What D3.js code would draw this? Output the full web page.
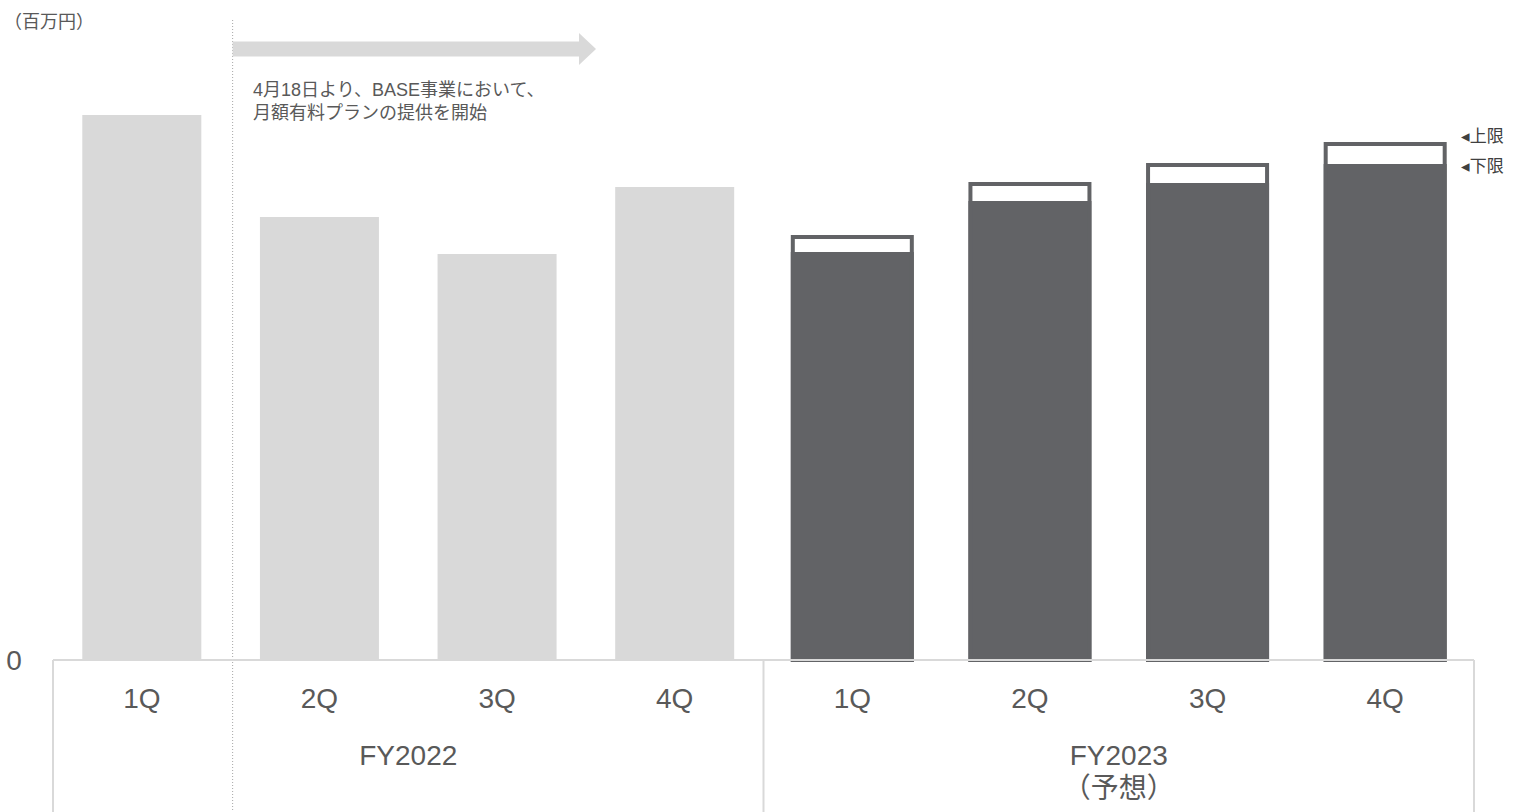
<!DOCTYPE html>
<html lang="ja">
<head>
<meta charset="UTF-8">
<title>BASE</title>
<script src="https://d3js.org/d3.v7.min.js"></script>
<style>
  body { margin: 0; background: #fff; }
  svg text { font-family: "Liberation Sans", Arial, "Noto Sans CJK JP", sans-serif; fill: #595959; }
</style>
</head>
<body>
<svg id="chart" width="1516" height="812"></svg>
<script>
// data (百万円)
var quarters = ['1Q', '2Q', '3Q', '4Q', '1Q', '2Q', '3Q', '4Q'];
var years = ['FY2022', 'FY2022', 'FY2022', 'FY2022', 'FY2023', 'FY2023', 'FY2023', 'FY2023'];
var actual = [545, 443, 406, 473, null, null, null, null];
var forecastLow = [null, null, null, null, 406, 457, 475, 494];
var forecastHigh = [null, null, null, null, 423, 476, 495, 516];
var yearLabels = [['FY2022'], ['FY2023', '（予想）']];
var unitLabel = '（百万円）';
var noteLines = ['4月18日より、BASE事業において、', '月額有料プランの提供を開始'];

var svg = d3.select('#chart');
var left = 53, right = 1474, base = 660, bottom = 812;

var keys = d3.range(quarters.length);
var x = d3.scaleBand().domain(keys).range([left, right]).paddingInner(0.33).paddingOuter(0.165);
var y = d3.scaleLinear().domain([0, 600]).range([base, 60]);
var step = x.step();

var light = '#d9d9d9', dark = '#626366';

// dotted marker line (start of monthly plan, between 1Q and 2Q)
var markX = x(1) - step * x.paddingInner() / 2 + 2;
svg.append('line')
    .attr('x1', markX).attr('x2', markX)
    .attr('y1', 20).attr('y2', bottom)
    .attr('stroke', '#a6a6a6').attr('stroke-width', 1)
    .attr('stroke-dasharray', '1,2');

// arrow
var ax0 = markX, ax1 = 579, ax2 = 596;
svg.append('path')
    .attr('d', 'M' + ax0 + ',41.5 L' + ax1 + ',41.5 L' + ax1 + ',33 L' + ax2 + ',49 L' + ax1 + ',65 L' + ax1 + ',56.5 L' + ax0 + ',56.5 Z')
    .attr('fill', light);

svg.append('text')
    .attr('x', 253).attr('y', 96)
    .style('font-size', '18px')
    .selectAll('tspan').data(noteLines).join('tspan')
    .attr('x', 253).attr('dy', function(d, i) { return i ? 23 : 0; })
    .text(function(d) { return d; });

svg.append('text').attr('x', 4).attr('y', 28)
    .style('font-size', '18px').text(unitLabel);

// actual bars
svg.selectAll('rect.actual').data(keys.filter(function(i) { return actual[i] != null; }))
    .join('rect').attr('class', 'actual')
    .attr('x', function(i) { return x(i); })
    .attr('width', x.bandwidth())
    .attr('y', function(i) { return y(actual[i]); })
    .attr('height', function(i) { return base - y(actual[i]); })
    .attr('fill', light);

// forecast: upper range (white box) then lower bound (dark)
var fc = keys.filter(function(i) { return forecastLow[i] != null; });
svg.selectAll('rect.hi').data(fc).join('rect').attr('class', 'hi')
    .attr('x', function(i) { return x(i); })
    .attr('width', x.bandwidth())
    .attr('y', function(i) { return y(forecastHigh[i]); })
    .attr('height', function(i) { return base - y(forecastHigh[i]); })
    .attr('fill', '#fff').attr('stroke', dark).attr('stroke-width', 4);
svg.selectAll('rect.lo').data(fc).join('rect').attr('class', 'lo')
    .attr('x', function(i) { return x(i); })
    .attr('width', x.bandwidth())
    .attr('y', function(i) { return y(forecastLow[i]); })
    .attr('height', function(i) { return base - y(forecastLow[i]); })
    .attr('fill', dark).attr('stroke', dark).attr('stroke-width', 4);

// upper / lower labels next to the last bar
var last = fc[fc.length - 1];
var lx = x(last) + x.bandwidth() + 16;
[['◂上限', forecastHigh[last], -8], ['◂下限', forecastLow[last], 0]].forEach(function(d) {
    svg.append('text')
        .attr('x', lx).attr('y', y(d[1]) + d[2])
        .attr('dy', '0.35em')
        .style('font-size', '17px').style('fill', '#404040')
        .text(d[0]);
});

// axis frame
var frame = svg.append('g').attr('stroke', light).attr('stroke-width', 2).attr('fill', 'none');
frame.append('line').attr('x1', left).attr('x2', right).attr('y1', base).attr('y2', base);
var midX = x(4) - step * x.paddingInner() / 2;
[left, midX, right].forEach(function(v) {
    frame.append('line').attr('x1', v).attr('x2', v).attr('y1', base).attr('y2', bottom);
});

// zero label
svg.append('text').attr('x', 14).attr('y', base).attr('dy', '0.35em')
    .attr('text-anchor', 'middle').style('font-size', '28px').text('0');

// quarter labels
svg.selectAll('text.q').data(keys).join('text').attr('class', 'q')
    .attr('x', function(i) { return x(i) + x.bandwidth() / 2; })
    .attr('y', 708)
    .attr('text-anchor', 'middle').style('font-size', '28px')
    .text(function(i) { return quarters[i]; });

// fiscal year labels
var groups = [[left, midX], [midX, right]];
yearLabels.forEach(function(lines, gi) {
    var cx = (groups[gi][0] + groups[gi][1]) / 2;
    lines.forEach(function(t, li) {
        svg.append('text')
            .attr('x', cx).attr('y', 765 + li * 33)
            .attr('text-anchor', 'middle').style('font-size', '28px')
            .text(t);
    });
});
</script>
</body>
</html>
